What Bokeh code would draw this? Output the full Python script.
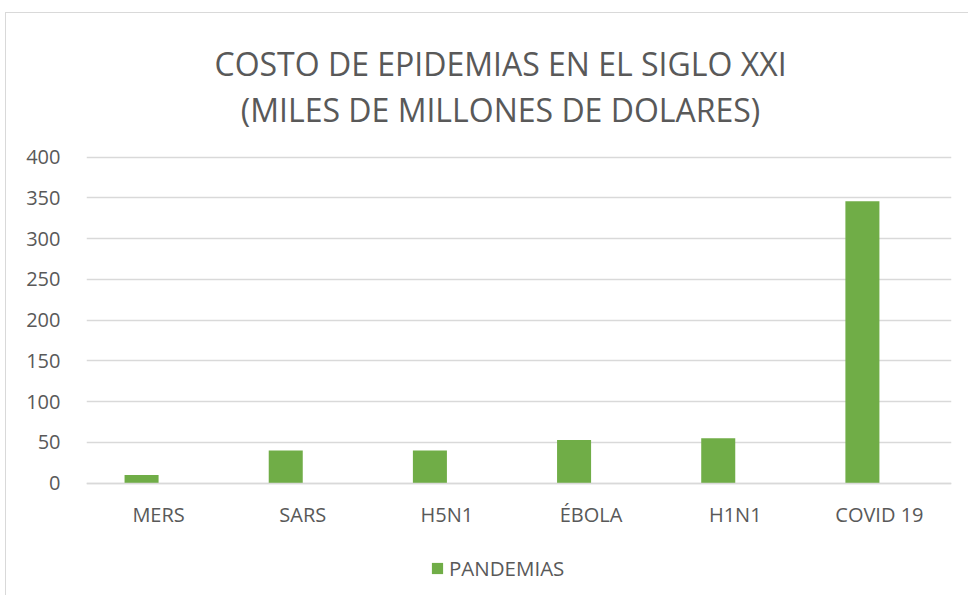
from bokeh.plotting import figure
from bokeh.models import (FactorRange, Range1d, ColumnDataSource, Label, Legend,
                          LegendItem, FixedTicker)
from bokeh.transform import dodge
from bokeh.embed import file_html
from bokeh.resources import INLINE

categories = ["MERS", "SARS", "H5N1", "ÉBOLA", "H1N1", "COVID 19"]
pandemias = [10, 40, 40, 53, 55, 346]
y_ticks = [0, 50, 100, 150, 200, 250, 300, 350, 400]
series_name = "PANDEMIAS"
title_line1 = "COSTO DE EPIDEMIAS EN EL SIGLO XXI"
title_line2 = "(MILES DE MILLONES DE DOLARES)"

FONT = "Open Sans"
TXT = "#595959"
GRID = "#d9d9d9"
GREEN = "#70AD47"

src = ColumnDataSource(dict(cat=categories, val=pandemias))

# the frame is extended above and below the value axis so that the title and
# legend can live inside it; ticks/grid are only drawn for 0..400
p = figure(frame_width=865, frame_height=570, output_backend="svg",
           toolbar_location=None,
           x_range=FactorRange(factors=categories, range_padding=0),
           y_range=Range1d(-131.7, 567.7),
           min_border_left=80, min_border_right=17, min_border_top=7,
           min_border_bottom=5)
p.title = None
p.outline_line_color = None
p.styles = {"border-left": "1px solid #d9d9d9", "border-top": "1px solid #d9d9d9",
            "margin-left": "5px", "margin-top": "12px"}

bars = p.vbar(x=dodge("cat", -0.118, range=p.x_range), top="val", width=0.236,
              source=src, fill_color=GREEN, line_color=None)

# title (two lines)
for txt, yy in ((title_line1, 515), (title_line2, 458)):
    p.add_layout(Label(x=2.872, y=yy, text=txt, text_align="center",
                       text_baseline="middle", text_font=FONT,
                       text_font_size="32px", text_color=TXT))

# axes
p.yaxis.ticker = FixedTicker(ticks=y_ticks)
p.yaxis.axis_line_color = None
p.yaxis.major_tick_line_color = None
p.yaxis.minor_tick_line_color = None
p.yaxis.major_label_standoff = 20
p.yaxis.major_label_text_font = FONT
p.yaxis.major_label_text_font_size = "20px"
p.yaxis.major_label_text_color = TXT

p.xaxis.fixed_location = 0
p.xaxis.axis_line_color = GRID
p.xaxis.axis_line_width = 1.5
p.xaxis.major_tick_line_color = None
p.xaxis.minor_tick_line_color = None
p.xaxis.major_label_standoff = 12
p.xaxis.major_label_text_font = FONT
p.xaxis.major_label_text_font_size = "20px"
p.xaxis.major_label_text_color = TXT

p.xgrid.grid_line_color = None
p.ygrid.ticker = FixedTicker(ticks=y_ticks)
p.ygrid.grid_line_color = GRID
p.ygrid.grid_line_width = 1.5

legend = Legend(items=[LegendItem(label=series_name, renderers=[bars])],
                orientation="horizontal", location=(344, 8),
                label_text_font=FONT, label_text_font_size="20.5px",
                label_text_color=TXT, glyph_width=14, glyph_height=14,
                border_line_color=None, background_fill_alpha=0,
                margin=0, padding=0, spacing=0, label_standoff=5)
p.add_layout(legend, "center")

open("out.html", "w").write(file_html(p, INLINE))
